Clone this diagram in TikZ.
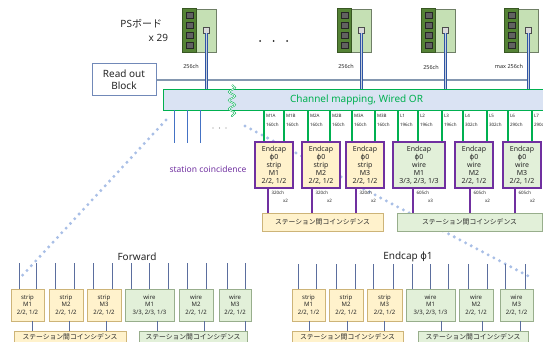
\documentclass[tikz,border=0pt]{standalone}
\usepackage{fontspec}
\setmainfont{Noto Sans}
\newfontfamily\jpfont{Noto Sans CJK JP}
\newfontfamily\grfont{DejaVu Sans}
\usetikzlibrary{decorations.pathmorphing}

\definecolor{ink}{HTML}{262626}
\definecolor{boarddark}{HTML}{548235}
\definecolor{boardedge}{HTML}{385723}
\definecolor{boardrim}{HTML}{6F7F66}
\definecolor{boardlight}{HTML}{C5E0B4}
\definecolor{portgray}{HTML}{D9D9D9}
\definecolor{cablebl}{HTML}{2F55A4}
\definecolor{slate}{HTML}{8497B0}
\definecolor{mapfill}{HTML}{DAE3F3}
\definecolor{mapgreen}{HTML}{00B050}
\definecolor{busblue}{HTML}{4472C4}
\definecolor{ecpurple}{HTML}{7030A0}
\definecolor{stripfill}{HTML}{FFF2CC}
\definecolor{wirefill}{HTML}{E2F0D9}
\definecolor{stripedge}{HTML}{CDB478}
\definecolor{wireedge}{HTML}{98AE8C}
\definecolor{dotblue}{HTML}{A9BFE6}
\definecolor{feedline}{HTML}{5B6E9E}
\definecolor{rbedge}{HTML}{7189B8}

\begin{document}
\begin{tikzpicture}[x=1pt,y=-1pt,
  txt/.style={inner sep=0pt, outer sep=0pt, text=ink},
  tinytxt/.style={txt, font=\fontsize{4.5}{5}\selectfont},
  boardbody/.style={draw=boardrim, fill=boardlight, minimum width=33pt, minimum height=43pt, inner sep=0pt, line width=0.6pt},
  pin/.style={draw=black!85, fill=black!62, line width=0.5pt},
  port/.style={draw=black!70, fill=portgray, minimum size=6pt, inner sep=0pt, line width=0.5pt},
  cable/.style={draw=cablebl, line width=0.6pt, double=slate!45, double distance=0.9pt},
  busline/.style={draw=slate, line width=1.4pt},
  mapbox/.style={draw=mapgreen, fill=mapfill, line width=0.8pt, minimum width=387pt, minimum height=21pt, inner sep=0pt, text=mapgreen, font=\fontsize{10}{12}\selectfont},
  mapline/.style={draw=mapgreen, line width=1.3pt},
  squig/.style={draw=mapgreen, line width=0.5pt, double=white, double distance=0.7pt, decorate, decoration={snake, amplitude=3pt, segment length=8.5pt}},
  ecbox/.style={draw=ecpurple, line width=1.6pt, minimum height=46pt, inner sep=0pt, align=center, text=ink, font=\fontsize{7}{8}\selectfont},
  sfill/.style={fill=stripfill},
  wfill/.style={fill=wirefill},
  ecline/.style={draw=ecpurple, line width=1.3pt},
  stbox/.style={line width=0.8pt, inner sep=0pt, text=ink, font=\jpfont\fontsize{6.8}{8}\selectfont},
  smallbox/.style={line width=0.8pt, minimum height=32pt, inner sep=0pt, align=center, text=ink, font=\fontsize{6}{7.6}\selectfont},
  feed/.style={draw=feedline, line width=1pt},
  dotline/.style={draw=dotblue, line width=3.3pt, line cap=round, dash pattern=on 0pt off 6.4pt},
  title/.style={txt, font=\fontsize{10}{12}\selectfont}
]
\useasboundingbox (0,0) rectangle (543,342);

% ---- dotted guide lines (behind everything else) ----
\coordinate (d1a) at (166,120);
\coordinate (d1b) at (20,278);
\coordinate (d2a) at (245,126);
\coordinate (d2b) at (530,277);
\draw[dotline] (d1a) -- (d1b);
\draw[dotline] (d2a) -- (d2b);

% ---- PS boards ----
\foreach \bx [count=\k] in {183,338,422,505} {
  \node[boardbody] (ps\k) at (\bx+16.5,30.5) {};
  \draw[fill=boarddark, draw=boardedge, line width=0.6pt] (ps\k.north west) rectangle ([xshift=14pt]ps\k.south west);
  \foreach \py in {12,22,32,42}
    \draw[pin] (\bx+3.5,\py) rectangle (\bx+10.5,\py+6);
  \node[port] (pt\k) at (\bx+23.5,30) {};
}
\node[title, anchor=east] (psname) at (162,24) {PS{\jpfont ボード}};
\node[title, anchor=east] (pscount) at (168,37.5) {x 29};
\fill[ink] (260,41) circle (1pt) (273.5,41) circle (1pt) (287,41) circle (1pt);

\node[tinytxt, font=\fontsize{5.5}{6}\selectfont] (ch1) at (191,66) {256ch};
\node[tinytxt, font=\fontsize{5.5}{6}\selectfont] (ch2) at (346,66) {256ch};
\node[tinytxt, font=\fontsize{5.5}{6}\selectfont] (ch3) at (431,67) {256ch};
\node[tinytxt, font=\fontsize{5.5}{6}\selectfont] (ch4) at (509,66) {max 256ch};

% ---- read out block and mapping stage ----
\node[draw=rbedge, fill=white, line width=1pt, minimum width=64pt, minimum height=32pt, inner sep=0pt, align=center, text=ink, font=\fontsize{10}{12.5}\selectfont] (rb) at (124,80) {Read out\\Block};
\node[mapbox] (cm) at (356.5,99.5) {Channel mapping, Wired OR};
\draw[busline] (rb.east) -- (rb.east -| pt4.south);
\foreach \k in {1,2,3,4}
  \draw[cable] (pt\k.south) -- (pt\k.south |- cm.north);
\draw[squig] (232,85) -- (232,117);

% outputs toward the other detector regions
\foreach \x [count=\k] in {174,187,200} {
  \coordinate (bo\k) at (\x,143);
  \draw[draw=busblue, line width=1pt] (cm.south -| bo\k) -- (bo\k);
}
\fill[gray] (213,128) circle (0.6pt) (219.5,128) circle (0.6pt) (226,128) circle (0.6pt);

% ---- endcap phi0 trigger blocks ----
\node[ecbox, sfill, minimum width=38pt] (e1) at (274,165) {Endcap\\{\grfont ϕ}0\\strip\\M1\\2/2, 1/2};
\node[ecbox, sfill, minimum width=38pt] (e2) at (321,165) {Endcap\\{\grfont ϕ}0\\strip\\M2\\2/2, 1/2};
\node[ecbox, sfill, minimum width=38pt] (e3) at (365,165) {Endcap\\{\grfont ϕ}0\\strip\\M3\\2/2, 1/2};
\node[ecbox, wfill, minimum width=52pt] (e4) at (419,165) {Endcap\\{\grfont ϕ}0\\wire\\M1\\3/3, 2/3, 1/3};
\node[ecbox, wfill, minimum width=38pt] (e5) at (474,165) {Endcap\\{\grfont ϕ}0\\wire\\M2\\2/2, 1/2};
\node[ecbox, wfill, minimum width=38pt] (e6) at (522,165) {Endcap\\{\grfont ϕ}0\\wire\\M3\\2/2, 1/2};

\foreach \x/\lab/\ch/\tgt in {264/M1A/160/e1, 284/M1B/160/e1, 308/M2A/160/e2, 330/M2B/160/e2,
    352/M3A/160/e3, 375/M3B/160/e3, 398/L1/196/e4, 418/L2/196/e4, 442/L3/196/e4,
    463/L4/302/e5, 487/L5/302/e5, 508/L6/290/e6, 532/L7/290/e6} {
  \draw[mapline] (cm.south -| \x,0) -- (\tgt.north -| \x,0);
  \node[tinytxt, anchor=west] (n\lab) at (\x+2,116) {\lab};
  \node[tinytxt, anchor=west] (c\lab) at (\x+2,124.5) {\ch ch};
}

\node[txt, text=ecpurple, font=\fontsize{8.5}{10}\selectfont] (stc) at (208,169) {station coincidence};

% station coincidence collectors
\node[stbox, draw=stripedge, fill=stripfill, minimum width=121pt, minimum height=18pt] (s1) at (322.5,222) {ステーション間コインシデンス};
\node[stbox, draw=wireedge, fill=wirefill, minimum width=145pt, minimum height=18pt] (s2) at (469.5,222) {ステーション間コインシデンス};

\foreach \x/\src/\dst/\ch/\mul in {268/e1/s1/320/2, 312/e2/s1/320/2, 356/e3/s1/320/2,
    413/e4/s2/605/3, 470/e5/s2/605/2, 515/e6/s2/605/2} {
  \draw[ecline] (\src.south -| \x,0) -- (\dst.north -| \x,0);
  \node[tinytxt, anchor=west] (q\src) at (\x+3.5,193) {\ch ch};
  \node[tinytxt, anchor=east] (m\src) at (\x+20,201) {x\mul};
}

% ---- Forward region ----
\node[title] (fwd) at (137,257) {Forward};
\node[smallbox, draw=stripedge, fill=stripfill, minimum width=33pt] (f1) at (27.5,305) {strip\\M1\\2/2, 1/2};
\node[smallbox, draw=stripedge, fill=stripfill, minimum width=34pt] (f2) at (66,305) {strip\\M2\\2/2, 1/2};
\node[smallbox, draw=stripedge, fill=stripfill, minimum width=34pt] (f3) at (104,305) {strip\\M3\\2/2, 1/2};
\node[smallbox, draw=wireedge, fill=wirefill, minimum width=49pt] (f4) at (149.5,305) {wire\\M1\\3/3, 2/3, 1/3};
\node[smallbox, draw=wireedge, fill=wirefill, minimum width=34pt] (f5) at (196,305) {wire\\M2\\2/2, 1/2};
\node[smallbox, draw=wireedge, fill=wirefill, minimum width=32pt] (f6) at (235,305) {wire\\M3\\2/2, 1/2};
\node[stbox, draw=stripedge, fill=stripfill, minimum width=112pt, minimum height=12pt] (fs1) at (70,337) {ステーション間コインシデンス};
\node[stbox, draw=wireedge, fill=wirefill, minimum width=108pt, minimum height=12pt] (fs2) at (193,337) {ステーション間コインシデンス};

\foreach \x/\tgt [count=\k] in {19/f1, 36/f1, 55/f2, 74/f2, 93/f3, 112/f3, 131/f4, 149/f4, 168/f4,
    187/f5, 206/f5, 227/f6, 245/f6} {
  \coordinate (fi\k) at (\x,263);
  \draw[feed] (fi\k) -- (\tgt.north -| fi\k);
}
\foreach \x/\src/\dst in {32/f1/fs1, 69/f2/fs1, 106/f3/fs1, 157/f4/fs2, 204/f5/fs2, 245/f6/fs2}
  \draw[feed] (\src.south -| \x,0) -- (\dst.north -| \x,0);

% ---- Endcap phi1 region ----
\node[title] (ec1) at (408,257) {Endcap {\grfont ϕ}1};
\node[smallbox, draw=stripedge, fill=stripfill, minimum width=33pt] (g1) at (308.5,305) {strip\\M1\\2/2, 1/2};
\node[smallbox, draw=stripedge, fill=stripfill, minimum width=34pt] (g2) at (346,305) {strip\\M2\\2/2, 1/2};
\node[smallbox, draw=stripedge, fill=stripfill, minimum width=35pt] (g3) at (384.5,305) {strip\\M3\\2/2, 1/2};
\node[smallbox, draw=wireedge, fill=wirefill, minimum width=49pt] (g4) at (430.5,305) {wire\\M1\\3/3, 2/3, 1/3};
\node[smallbox, draw=wireedge, fill=wirefill, minimum width=34pt] (g5) at (476,305) {wire\\M2\\2/2, 1/2};
\node[smallbox, draw=wireedge, fill=wirefill, minimum width=33pt] (g6) at (516.5,305) {wire\\M3\\2/2, 1/2};
\node[stbox, draw=stripedge, fill=stripfill, minimum width=111pt, minimum height=12pt] (gs1) at (347.5,337) {ステーション間コインシデンス};
\node[stbox, draw=wireedge, fill=wirefill, minimum width=110pt, minimum height=12pt] (gs2) at (473,337) {ステーション間コインシデンス};

\foreach \x/\tgt [count=\k] in {298/g1, 316/g1, 336/g2, 355/g2, 373/g3, 393/g3, 412/g4, 430/g4, 448/g4,
    468/g5, 487/g5, 505/g6, 525/g6} {
  \coordinate (gi\k) at (\x,264);
  \draw[feed] (gi\k) -- (\tgt.north -| gi\k);
}
\foreach \x/\src/\dst in {309/g1/gs1, 347/g2/gs1, 384/g3/gs1, 441/g4/gs2, 482/g5/gs2, 520/g6/gs2}
  \draw[feed] (\src.south -| \x,0) -- (\dst.north -| \x,0);

\end{tikzpicture}
\end{document}
